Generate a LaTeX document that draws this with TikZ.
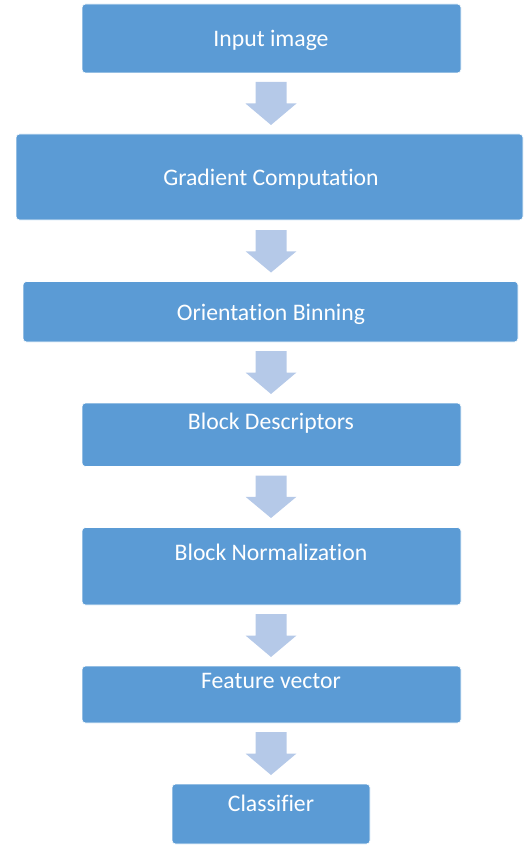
\documentclass[tikz,border=0pt]{standalone}
\usepackage{fontspec}
\setmainfont[Ligatures={NoCommon}]{Carlito}
\usetikzlibrary{calc}
\definecolor{boxblue}{HTML}{5B9BD5}
\definecolor{arrowblue}{HTML}{B5C9E8}
\tikzset{
  stepbox/.style={draw=white, line width=0.6pt, fill=boxblue, rounded corners=3.5pt, inner sep=0pt},
  steptext/.style={anchor=base, text=white, font=\fontsize{23.7}{28}\selectfont, inner sep=0pt},
  flowarrow/.style={fill=arrowblue, draw=none}
}
\newcommand{\blockarrow}[3]{% name, top y, tip y
  \coordinate (#1) at (271,#2);
  \fill[flowarrow] ($(#1)+(-15.5,0)$) -- ($(#1)+(15.5,0)$) -- ($(#1)+(15.5,{(#3-#2)/2})$)
    -- ($(#1)+(25.5,{(#3-#2)/2})$) -- (271,#3) -- ($(#1)+(-25.5,{(#3-#2)/2})$)
    -- ($(#1)+(-15.5,{(#3-#2)/2})$) -- cycle;
}
\begin{document}
\begin{tikzpicture}[x=1pt,y=-1pt]
\useasboundingbox (0,0) rectangle (525,845);
% boxes
\node[stepbox, minimum width=379pt, minimum height=69pt]   (b1) at (271.5,38.5) {};
\node[stepbox, minimum width=507pt, minimum height=86pt]   (b2) at (269.5,177) {};
\node[stepbox, minimum width=495pt, minimum height=60.5pt] (b3) at (270.5,311.75) {};
\node[stepbox, minimum width=379pt, minimum height=63.5pt] (b4) at (271.5,434.75) {};
\node[stepbox, minimum width=379pt, minimum height=77.5pt] (b5) at (271.5,566.25) {};
\node[stepbox, minimum width=379pt, minimum height=57pt]   (b6) at (271.5,694.5) {};
\node[stepbox, minimum width=198pt, minimum height=60pt]   (b7) at (271,814) {};
% texts
\node[steptext] (t1) at (271,47) {Input image};
\node[steptext] (t2) at (271,185.5) {Gradient Computation};
\node[steptext] (t3) at (271,320) {Orientation Binning};
\node[steptext] (t4) at (271,429.5) {Block Descriptors};
\node[steptext] (t5) at (271,560) {Block Normalization};
\node[steptext] (t6) at (271,688.5) {Feature vector};
\node[steptext] (t7) at (271,811) {Classifier};
% arrows
\blockarrow{a1}{82}{125}
\blockarrow{a2}{230}{272.5}
\blockarrow{a3}{351}{394}
\blockarrow{a4}{475.5}{518}
\blockarrow{a5}{614}{657}
\blockarrow{a6}{732}{775}
\end{tikzpicture}
\end{document}
